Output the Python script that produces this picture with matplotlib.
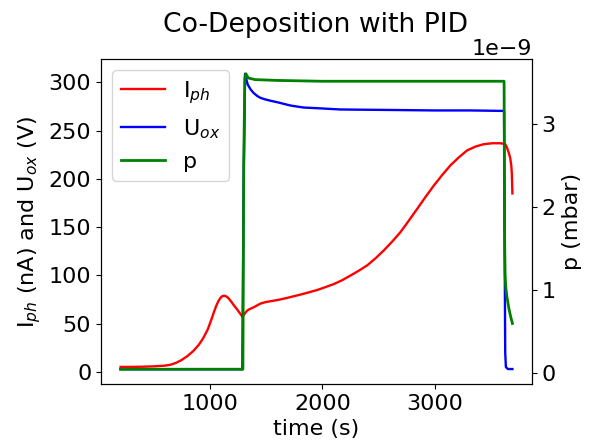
import numpy as np
import matplotlib
matplotlib.use("Agg")
import matplotlib.pyplot as plt

plt.rcParams['font.size'] = 16

# Photocurrent I_ph (nA)
t_iph = [205, 300, 400, 500, 600, 650, 700, 750, 800, 850, 900, 940, 980, 1010, 1035,
         1054, 1075, 1095, 1110, 1124, 1140, 1160, 1185, 1213, 1240, 1265, 1290,
         1300, 1320, 1335, 1360, 1389, 1420, 1452, 1500, 1550, 1600, 1660, 1730, 1800,
         1880, 1956, 2030, 2100, 2175, 2251, 2325, 2399, 2470, 2547, 2620, 2695,
         2770, 2843, 2915, 2990, 3065, 3138, 3210, 3286, 3360, 3434, 3510, 3582,
         3610, 3626, 3640, 3655, 3670, 3680, 3685, 3690]
iph = [5.2, 5.2, 5.4, 5.8, 6.5, 7.5, 9.5, 12.5, 16.5, 21.5, 28, 35, 44, 53.5, 62,
       68, 73.5, 77, 78.5, 79, 78.5, 77, 73.5, 69, 65, 61, 57,
       59, 62, 64, 65.5, 67, 69, 71, 72.5, 73.5, 74.5, 76, 78, 80,
       82.5, 85, 88, 91, 95, 100, 105, 110.5, 117.5, 126, 135, 145,
       157, 169, 181, 193, 204, 214, 222, 229.5, 233.5, 236, 237, 237,
       236.5, 236, 233, 228, 222, 214, 205, 185]

# Oxygen valve voltage U_ox (V)
t_uox = [205, 1288, 1300, 1312, 1320, 1335, 1360, 1389, 1420, 1450, 1490, 1540,
         1600, 1650, 1720, 1834, 1957, 2160, 2400, 2600, 3000, 3315, 3616,
         3620, 3626, 3632, 3650, 3690]
uox = [2.8, 2.8, 200, 309, 305, 298, 293, 289, 286, 284, 282.5, 281,
       279.5, 278, 276, 274, 273.3, 272, 271.7, 271.5, 271, 271, 270.5,
       150, 20, 5, 3, 3]

# Pressure p (mbar)
t_p = [205, 1293, 1300, 1310, 1320, 1340, 1400, 1600, 2000, 2500, 3000, 3500, 3616,
       3621, 3625, 3630, 3640, 3650, 3660, 3675, 3690]
p = [0.05e-9, 0.05e-9, 2.5e-9, 3.55e-9, 3.6e-9, 3.55e-9, 3.53e-9, 3.52e-9, 3.51e-9,
     3.51e-9, 3.51e-9, 3.51e-9, 3.51e-9, 1.6e-9, 1.2e-9, 1.05e-9, 0.93e-9, 0.85e-9,
     0.77e-9, 0.68e-9, 0.6e-9]

fig = plt.figure(figsize=(5.9, 4.43), dpi=100)
ax = fig.add_subplot(111)
fig.subplots_adjust(left=101/590, right=532/590, top=1-59/443, bottom=1-384/443)

l1, = ax.plot(t_iph, iph, color='red', lw=1.7, label='I$_{ph}$')
l2, = ax.plot(t_uox, uox, color='blue', lw=1.7, label='U$_{ox}$')
ax.set_xlabel('time (s)')
ax.set_ylabel('I$_{ph}$ (nA) and U$_{ox}$ (V)')

ax2 = ax.twinx()
l3, = ax2.plot(t_p, p, color='green', lw=2.0, label='p')
ax2.set_ylabel('p (mbar)')

ax.set_xticks([1000, 2000, 3000])
ax.legend(handles=[l1, l2, l3], loc='upper left')

fig.text(316 / 590, 1 - 32 / 443, 'Co-Deposition with PID', ha='center',
         va='baseline', fontsize=19.2)

fig.savefig('out.png', dpi=100)
